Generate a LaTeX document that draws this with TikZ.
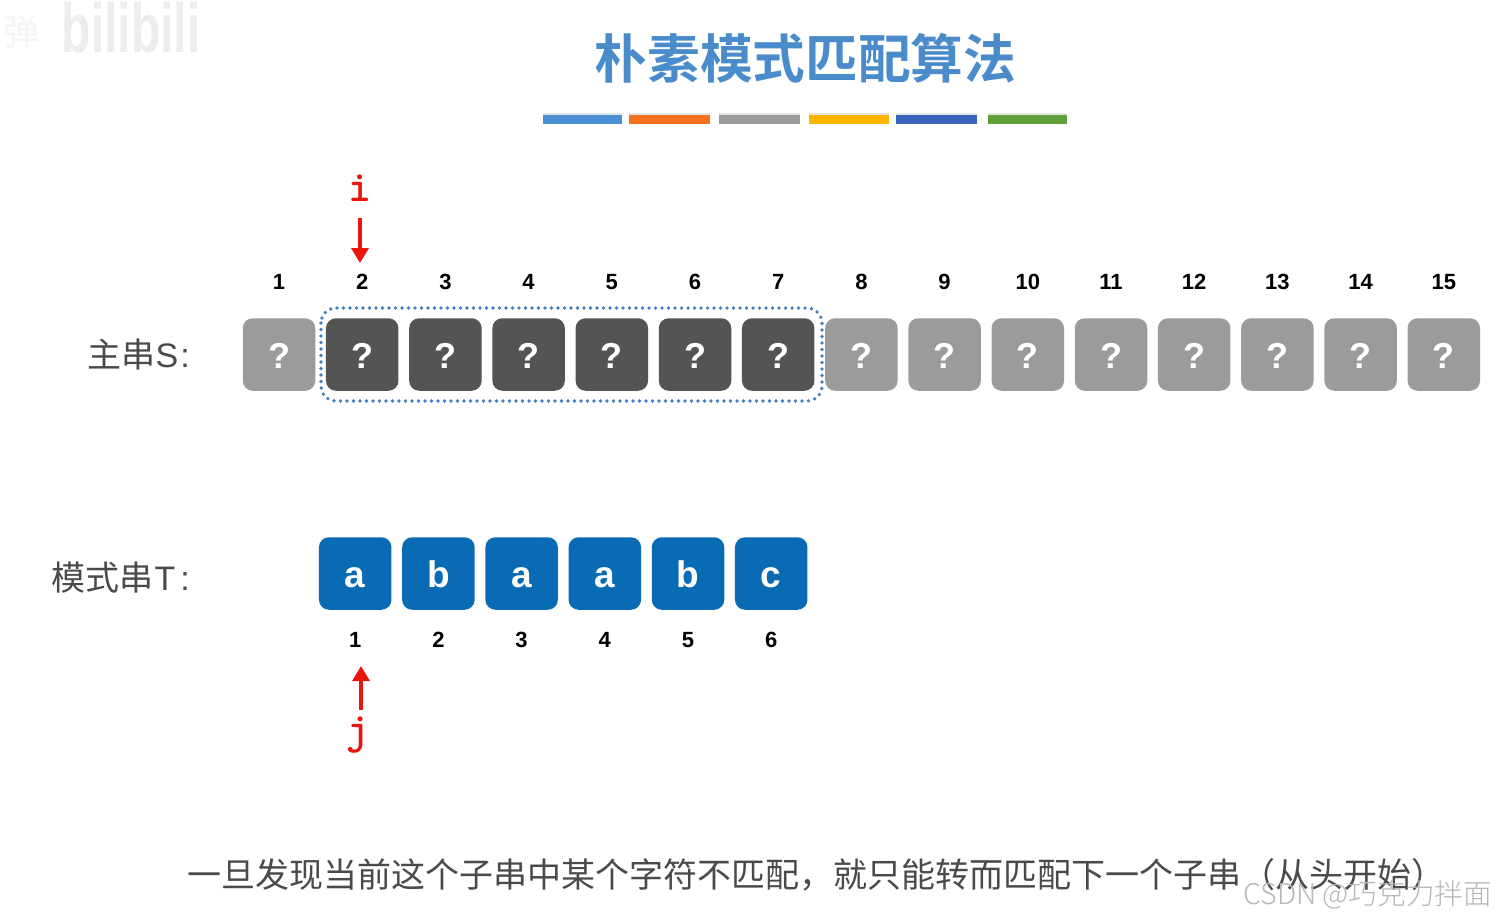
\documentclass[tikz,border=0pt]{standalone}
\usepackage{fontspec}
\setmainfont{Liberation Sans}
\newfontfamily\cjk{Noto Sans CJK SC}
\newfontfamily\cjkb{Noto Sans CJK SC Bold}
\newfontfamily\cjkl{Noto Sans CJK SC Light}
\usetikzlibrary{arrows.meta,shadows}
\definecolor{lightbox}{HTML}{9B9B9B}
\definecolor{darkbox}{HTML}{545454}
\definecolor{bluebox}{HTML}{0A6BB5}
\definecolor{dotblue}{HTML}{3F7FBF}
\definecolor{ptred}{HTML}{E8160C}
\definecolor{labelgrey}{HTML}{4A4A4A}
\definecolor{titleblue}{HTML}{4A8CCB}
\tikzset{
 x=1pt,y=-1pt,
 cell/.style={rounded corners=10pt,minimum width=72.5pt,minimum height=72.5pt,inner sep=0pt,text=white,text height=27pt,text depth=0pt,font=\fontsize{36}{36}\selectfont\bfseries},
 scell/.style={cell,fill=lightbox},
 dcell/.style={cell,fill=darkbox},
 tcell/.style={cell,fill=bluebox,text height=27pt,font=\fontsize{37}{37}\selectfont\bfseries},
 idx/.style={text=black,inner sep=0pt,font=\fontsize{22}{22}\selectfont\bfseries},
 rowlabel/.style={text=labelgrey,inner sep=0pt,anchor=east,font=\fontsize{34}{34}\selectfont},
 ptr/.style={text=ptred,inner sep=0pt,font=\fontsize{44}{44}\selectfont\ttfamily\bfseries},
 ptrarrow/.style={draw=ptred,line width=3.5pt,-{Triangle[length=15pt,width=17pt]}},
 bar/.style={minimum width=79pt,minimum height=9pt,inner sep=0pt,drop shadow={shadow xshift=0pt,shadow yshift=2.5pt,opacity=.2}},
 selbox/.style={draw=dotblue,line width=3.7pt,rounded corners=15pt,line cap=round,dash pattern=on 0pt off 6.5pt},
}
\begin{document}
\begin{tikzpicture}
\useasboundingbox (0,0) rectangle (1496,922);
\fill[white] (0,0) rectangle (1496,922);
% watermark top left
\node[text=black!7,inner sep=0pt,yscale=1.45,font=\fontsize{48}{48}\selectfont\bfseries] (wmb) at (131,28) {bilibili};
\node[text=black!4,inner sep=0pt,font=\fontsize{36}{36}\selectfont\cjk] (wml) at (22,32) {弹};
% title
\node[text=titleblue,inner sep=0pt,font=\fontsize{52.7}{52.7}\selectfont\cjkb] (title) at (805.5,58) {朴素模式匹配算法};
% colour bars
\foreach \nm/\xc/\w/\col in {b1/582.5/79/4A90D6,b2/669.5/81/F5701F,b3/759/81/999999,b4/848.5/80/FFB400,b5/936.5/81/3B63BD,b6/1027/79/5FA03A}{
  \definecolor{barc}{HTML}{\col}
  \node[bar,fill=barc,minimum width=\w pt] (\nm) at (\xc,119.5) {};
}
% main string
\node[rowlabel] (slabel) at (190,355) {{\cjk 主串}S\kern2pt:};
\foreach \n/\xc in {1/279,2/362.2,3/445.4,4/528.6,5/611.8,6/695,7/778.2,8/861.4,9/944.6,10/1027.8,11/1111,12/1194.2,13/1277.4,14/1360.6,15/1443.8}{
  \ifnum\n>1 \ifnum\n<8
    \node[dcell] (s\n) at (\xc,354.5) {?};
  \else
    \node[scell] (s\n) at (\xc,354.5) {?};
  \fi\else
    \node[scell] (s\n) at (\xc,354.5) {?};
  \fi
  \node[idx] (sn\n) at (\xc,282) {\n};
}
\draw[selbox] (321,308) rectangle (822,401);
% pattern
\node[rowlabel] (tlabel) at (190,578) {{\cjk 模式串}\kern1pt T\kern5pt:};
\foreach \n/\xc/\ch in {1/355.2/a,2/438.4/b,3/521.6/a,4/604.8/a,5/688/b,6/771.2/c}{
  \node[tcell] (t\n) at (\xc,573.5) {\ch};
  \node[idx] (tn\n) at (\xc,640) {\n};
}
% pointers
\node[ptr] (i) at (360,188) {i};
\coordinate (itop) at (360,218);
\coordinate (ibot) at (360,263);
\draw[ptrarrow] (itop) -- (ibot);
\node[ptr] (j) at (358,735) {j};
\coordinate (jbot) at (361,710);
\coordinate (jtop) at (361,666);
\draw[ptrarrow] (jbot) -- (jtop);
% caption
\node[text=labelgrey,inner sep=0pt,anchor=west,font=\fontsize{34}{34}\selectfont\cjk] (caption) at (187,875) {一旦发现当前这个子串中某个字符不匹配，就只能转而匹配下一个子串（从头开始）};
% watermark bottom right
\node[text=black!28,inner sep=0pt,anchor=east,font=\fontsize{28.6}{28.6}\selectfont\cjkl] (csdn) at (1492,895) {CSDN @巧克力拌面};
\end{tikzpicture}
\end{document}
